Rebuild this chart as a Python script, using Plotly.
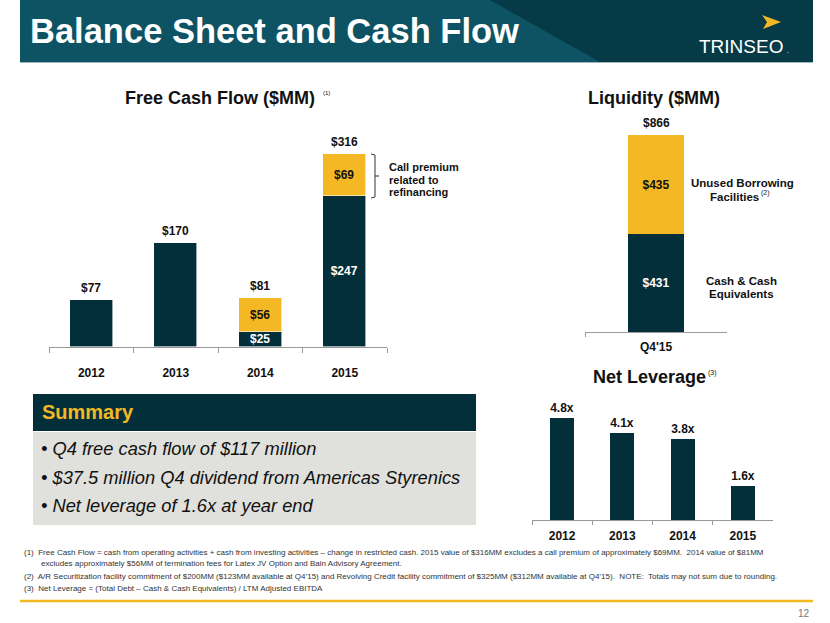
import plotly.graph_objects as go

# ---------------- data ----------------
years = ["2012", "2013", "2014", "2015"]
fcf_base = [77, 170, 25, 247]          # free cash flow (dark)
fcf_excluded = [0, 0, 56, 69]          # excluded items (yellow)
fcf_total = [77, 170, 81, 316]

liq_period = ["Q4'15"]
liq_cash = [431]
liq_unused = [435]
liq_total = [866]

lev_years = ["2012", "2013", "2014", "2015"]
lev_values = [4.8, 4.1, 3.8, 1.6]

summary_bullets = [
    "Q4 free cash flow of $117 million",
    "$37.5 million Q4 dividend from Americas Styrenics",
    "Net leverage of 1.6x at year end",
]
footnotes = [
    "(1)  Free Cash Flow = cash from operating activities + cash from investing activities \u2013 change in restricted cash. 2015 value of $316MM excludes a call premium of approximately $69MM.  2014 value of $81MM",
    "excludes approximately $56MM of termination fees for Latex JV Option and Bain Advisory Agreement.",
    "(2)  A/R Securitization facility commitment of $200MM ($123MM available at Q4\u201915) and Revolving Credit facility commitment of $325MM ($312MM available at Q4\u201915).  NOTE:  Totals may not sum due to rounding.",
    "(3)  Net Leverage = (Total Debt \u2013 Cash & Cash Equivalents) / LTM Adjusted EBITDA",
]

# ---------------- style ----------------
W, H = 830, 623
DARK = "#032f3a"
YELLOW = "#f4b824"
AXIS = "#9a9a9a"
FONT = "Liberation Sans, Arial, sans-serif"
LBL = 12


def px(x):
    return x / W


def py(y):
    return 1 - y / H


def path(points, close=True):
    s = "M " + " L ".join(f"{px(x):.5f},{py(y):.5f}" for x, y in points)
    return s + (" Z" if close else "")


fig = go.Figure()

# ---- Free cash flow ----
fig.add_trace(go.Bar(
    x=years, y=fcf_base, width=0.51, xaxis="x", yaxis="y",
    marker=dict(color=DARK, line=dict(color="#ffffff", width=0.6)),
    text=[f"${v}" if e > 0 else "" for v, e in zip(fcf_base, fcf_excluded)],
    textposition="inside", insidetextanchor="middle", constraintext="none",
    textfont=dict(family=FONT, size=LBL, color="white", weight="bold"),
    hoverinfo="skip", cliponaxis=False, showlegend=False))
fig.add_trace(go.Bar(
    x=years, y=fcf_excluded, width=0.51, xaxis="x", yaxis="y",
    marker=dict(color=YELLOW, line=dict(color="#ffffff", width=0.6)),
    text=[f"${e}" if e > 0 else "" for e in fcf_excluded],
    textposition="inside", insidetextanchor="middle", constraintext="none",
    textfont=dict(family=FONT, size=LBL, color="#111111", weight="bold"),
    hoverinfo="skip", cliponaxis=False, showlegend=False))

# ---- Liquidity ----
fig.add_trace(go.Bar(
    x=liq_period, y=liq_cash, width=0.39, xaxis="x2", yaxis="y2",
    marker=dict(color=DARK, line=dict(width=0)),
    text=[f"${v}" for v in liq_cash],
    textposition="inside", insidetextanchor="middle", constraintext="none",
    textfont=dict(family=FONT, size=LBL, color="white", weight="bold"),
    hoverinfo="skip", cliponaxis=False, showlegend=False))
fig.add_trace(go.Bar(
    x=liq_period, y=liq_unused, width=0.39, xaxis="x2", yaxis="y2",
    marker=dict(color=YELLOW, line=dict(width=0)),
    text=[f"${v}" for v in liq_unused],
    textposition="inside", insidetextanchor="middle", constraintext="none",
    textfont=dict(family=FONT, size=LBL, color="#111111", weight="bold"),
    hoverinfo="skip", cliponaxis=False, showlegend=False))

# ---- Net leverage ----
fig.add_trace(go.Bar(
    x=lev_years, y=lev_values, width=0.4, xaxis="x3", yaxis="y3",
    marker=dict(color=DARK, line=dict(width=0)),
    text=[f"{v:.1f}x" for v in lev_values],
    textposition="outside", constraintext="none",
    textfont=dict(family=FONT, size=LBL, color="#111111", weight="bold"),
    hoverinfo="skip", cliponaxis=False, showlegend=False))

tickfont = dict(family=FONT, size=12, color="#111111", weight="bold")
common_x = dict(type="category", showline=True, linecolor=AXIS, linewidth=1,
                ticks="outside", tickcolor=AXIS, tickson="boundaries",
                showgrid=False, zeroline=False, fixedrange=True, tickfont=tickfont)

annotations = []
shapes = []

# totals above stacked bars (x = category index on the category axis)
for i, t in enumerate(fcf_total):
    annotations.append(dict(x=i, y=t, xref="x", yref="y", text=f"${t}",
                            showarrow=False, yanchor="bottom", yshift=3,
                            font=dict(family=FONT, size=LBL, color="#111111", weight="bold")))
for i, t in enumerate(liq_total):
    annotations.append(dict(x=i, y=t, xref="x2", yref="y2", text=f"${t}",
                            showarrow=False, yanchor="bottom", yshift=3,
                            font=dict(family=FONT, size=LBL, color="#111111", weight="bold")))


def text(x, y, s, size=12, color="#111111", weight="normal", xanchor="center",
         family=FONT, style="normal", yanchor="middle"):
    annotations.append(dict(x=px(x), y=py(y), xref="paper", yref="paper", text=s,
                            showarrow=False, xanchor=xanchor, yanchor=yanchor,
                            font=dict(family=family, size=size, color=color,
                                      weight=weight, style=style)))


# ---- title bar ----
shapes.append(dict(type="rect", xref="paper", yref="paper", x0=px(20), x1=px(813),
                   y0=py(62), y1=py(0), fillcolor="#0d5363", line=dict(width=0), layer="below"))
shapes.append(dict(type="path", xref="paper", yref="paper",
                   path=path([(490, 0), (813, 0), (813, 62), (600, 62)]),
                   fillcolor="#063a46", line=dict(width=0), layer="below"))
shapes.append(dict(type="line", xref="paper", yref="paper", x0=px(20), x1=px(813),
                   y0=py(62.5), y1=py(62.5), line=dict(color="#9fb7bd", width=1)))
text(28, 31, "Balance Sheet and Cash Flow", size=34.5, color="white", weight="bold",
     xanchor="left")
text(741, 46, "TRINSEO", size=19, color="white")
text(788, 51, ".", size=8, color="white")
shapes.append(dict(type="path", xref="paper", yref="paper",
                   path=path([(762, 15), (781, 22), (763, 29), (767, 22)]),
                   fillcolor=YELLOW, line=dict(width=0)))

# ---- chart titles ----
text(220, 98, "Free Cash Flow ($MM)", size=18, weight="bold")
text(321, 93, "(1)", size=6, xanchor="left")
text(654, 98, "Liquidity ($MM)", size=18, weight="bold")
text(649, 377, "Net Leverage", size=18, weight="bold")
text(706, 373, "(3)", size=7, xanchor="left")

# liquidity side labels
text(742, 183, "Unused Borrowing", size=11.5, weight="bold")
text(734, 197, "Facilities", size=11.5, weight="bold")
text(759, 193, "(2)", size=7, xanchor="left")
text(741, 281, "Cash & Cash", size=11.5, weight="bold")
text(741, 294, "Equivalents", size=11.5, weight="bold")

# bracket for call premium
shapes.append(dict(type="path", xref="paper", yref="paper",
                   path=path([(371, 154), (375, 155), (375, 197), (371, 198)], close=False),
                   line=dict(color="#333333", width=1)))
shapes.append(dict(type="line", xref="paper", yref="paper", x0=px(375), x1=px(379),
                   y0=py(176), y1=py(176), line=dict(color="#333333", width=1)))
text(387, 167, "Call premium", size=11, weight="bold", xanchor="left")
text(387, 179.5, "related to", size=11, weight="bold", xanchor="left")
text(387, 192, "refinancing", size=11, weight="bold", xanchor="left")

# ---- summary box ----
shapes.append(dict(type="rect", xref="paper", yref="paper", x0=px(33), x1=px(476),
                   y0=py(431), y1=py(394), fillcolor=DARK, line=dict(width=0), layer="below"))
shapes.append(dict(type="rect", xref="paper", yref="paper", x0=px(33), x1=px(476),
                   y0=py(525), y1=py(432), fillcolor="#e0e0dc", line=dict(width=0), layer="below"))
text(40, 412, "Summary", size=20, color=YELLOW, weight="bold", xanchor="left")
for i, b in enumerate(summary_bullets):
    text(39, 448 + i * 29, "\u2022 " + b, size=18.3, color="#111111", style="italic",
         xanchor="left")

# ---- footnotes ----
for f, xx, yy in zip(footnotes, [22, 39, 22, 22], [552, 563, 576, 588]):
    text(xx, yy, f, size=8, color="#333333", xanchor="left")
shapes.append(dict(type="line", xref="paper", yref="paper", x0=px(20), x1=px(813),
                   y0=py(601), y1=py(601), line=dict(color=YELLOW, width=2.5)))
text(812, 613, "12", size=10, color="#777777", xanchor="right")

fig.update_layout(
    width=W, height=H, margin=dict(l=0, r=0, t=0, b=0),
    paper_bgcolor="white", plot_bgcolor="rgba(0,0,0,0)",
    barmode="stack", bargap=0, showlegend=False,
    xaxis=dict(domain=[px(49), px(387)], anchor="y", ticklen=5, range=[-0.5, 3.5],
               ticklabelstandoff=15, **common_x),
    yaxis=dict(domain=[py(347), py(154)], range=[0, 316], visible=False, fixedrange=True),
    xaxis2=dict(domain=[px(585), px(727)], anchor="y2", ticklen=4, range=[-0.5, 0.5],
                ticklabelstandoff=4, **common_x),
    yaxis2=dict(domain=[py(332), py(135)], range=[0, 866], visible=False, fixedrange=True),
    xaxis3=dict(domain=[px(532), px(773)], anchor="y3", ticklen=4, range=[-0.5, 3.5],
                ticklabelstandoff=5, **common_x),
    yaxis3=dict(domain=[py(520), py(418)], range=[0, 4.8], visible=False, fixedrange=True),
    annotations=annotations, shapes=shapes,
)

fig.write_html("out.html", config={"displayModeBar": False},
               post_script="document.body.style.margin='0';document.body.style.overflow='hidden';")
